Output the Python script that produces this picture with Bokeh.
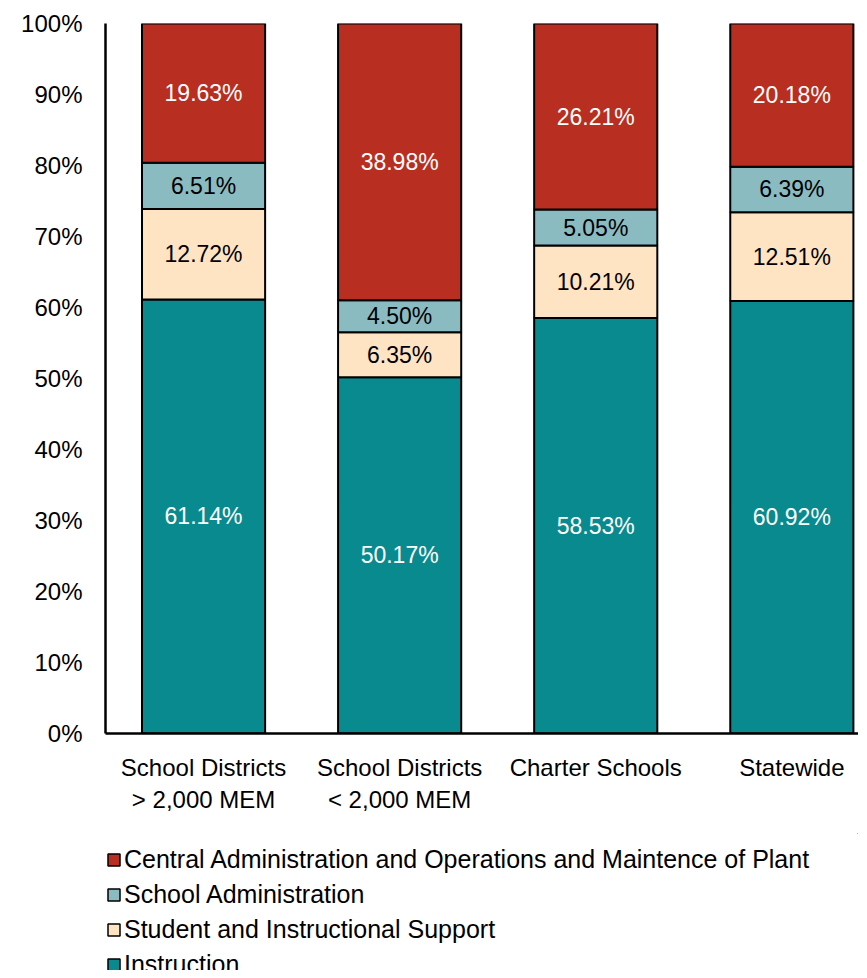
from bokeh.plotting import figure
from bokeh.layouts import column
from bokeh.models import ColumnDataSource, FixedTicker, Legend, LegendItem, NumeralTickFormatter
from bokeh.embed import file_html
from bokeh.resources import INLINE

categories = ["School Districts\n> 2,000 MEM", "School Districts\n< 2,000 MEM", "Charter Schools", "Statewide"]
series_names = ["Instruction", "Student and Instructional Support", "School Administration",
                "Central Administration and Operations and Maintence of Plant"]
instruction = [61.14, 50.17, 58.53, 60.92]
student_support = [12.72, 6.35, 10.21, 12.51]
school_admin = [6.51, 4.50, 5.05, 6.39]
central_admin = [19.63, 38.98, 26.21, 20.18]
colors = ["#088A8F", "#FFE4C4", "#8ABBC1", "#B82E20"]
label_colors = ["white", "black", "black", "white"]

FONT = "Liberation Sans"
series = [instruction, student_support, school_admin, central_admin]
xs = [i + 0.5 for i in range(len(categories))]

H1 = 833
p = figure(width=858, height=H1, x_range=(0, 3.84), y_range=(0, 1),
           output_backend="svg", toolbar_location=None,
           min_border_left=105, min_border_top=23, min_border_right=0, min_border_bottom=100)
p.outline_line_color = None
p.grid.grid_line_color = None

bottoms = [0.0] * len(categories)
for vals, col, lc in zip(series, colors, label_colors):
    tops = [b + v / 100 for b, v in zip(bottoms, vals)]
    src = ColumnDataSource(dict(x=xs, bottom=bottoms, top=tops,
                                mid=[(b + t) / 2 for b, t in zip(bottoms, tops)],
                                lab=["%.2f%%" % v for v in vals]))
    p.vbar(x="x", width=0.628, bottom="bottom", top="top", source=src,
           fill_color=col, line_color="black", line_width=2)
    p.text(x="x", y="mid", text="lab", source=src, text_align="center", text_baseline="middle",
           text_color=lc, text_font_size="23px", text_font={"value": FONT})
    bottoms = tops

p.yaxis.ticker = FixedTicker(ticks=[i / 10 for i in range(11)])
p.yaxis.formatter = NumeralTickFormatter(format="0%")
p.xaxis.ticker = FixedTicker(ticks=xs)
p.xaxis.major_label_overrides = {x: c for x, c in zip(xs, categories)}
for ax in (p.xaxis, p.yaxis):
    ax.major_tick_line_color = None
    ax.minor_tick_line_color = None
    ax.major_tick_out = 0
    ax.major_tick_in = 0
    ax.axis_line_color = "black"
    ax.axis_line_width = 2.5
    ax.major_label_text_font = FONT
    ax.major_label_text_font_size = "24px"
    ax.major_label_text_color = "black"
p.yaxis.major_label_standoff = 23
p.xaxis.major_label_standoff = 20

# legend-only figure
H2 = 970 - H1
q = figure(width=858, height=H2, x_range=(0, 1), y_range=(0, 1),
           output_backend="svg", toolbar_location=None,
           x_axis_type=None, y_axis_type=None,
           min_border_left=0, min_border_right=0, min_border_top=0, min_border_bottom=0)
q.outline_line_color = None
q.grid.grid_line_color = None
dummies = [q.vbar(x=[5], bottom=[5], top=[5.1], width=0.1, fill_color=c, line_color="black",
                  line_width=1.5) for c in colors]
items = [LegendItem(label=n, renderers=[r]) for n, r in zip(series_names, dummies)]
legend = Legend(items=items[::-1], location=(1, -9), orientation="vertical",
                label_text_font=FONT, label_text_font_size="25px", label_text_color="black",
                glyph_width=15, glyph_height=15, label_standoff=3, label_height=29,
                spacing=6, padding=0, margin=0,
                border_line_color=None, background_fill_alpha=0)
q.add_layout(legend, "center")

open("out.html", "w").write(file_html(column(p, q, spacing=0), INLINE))
